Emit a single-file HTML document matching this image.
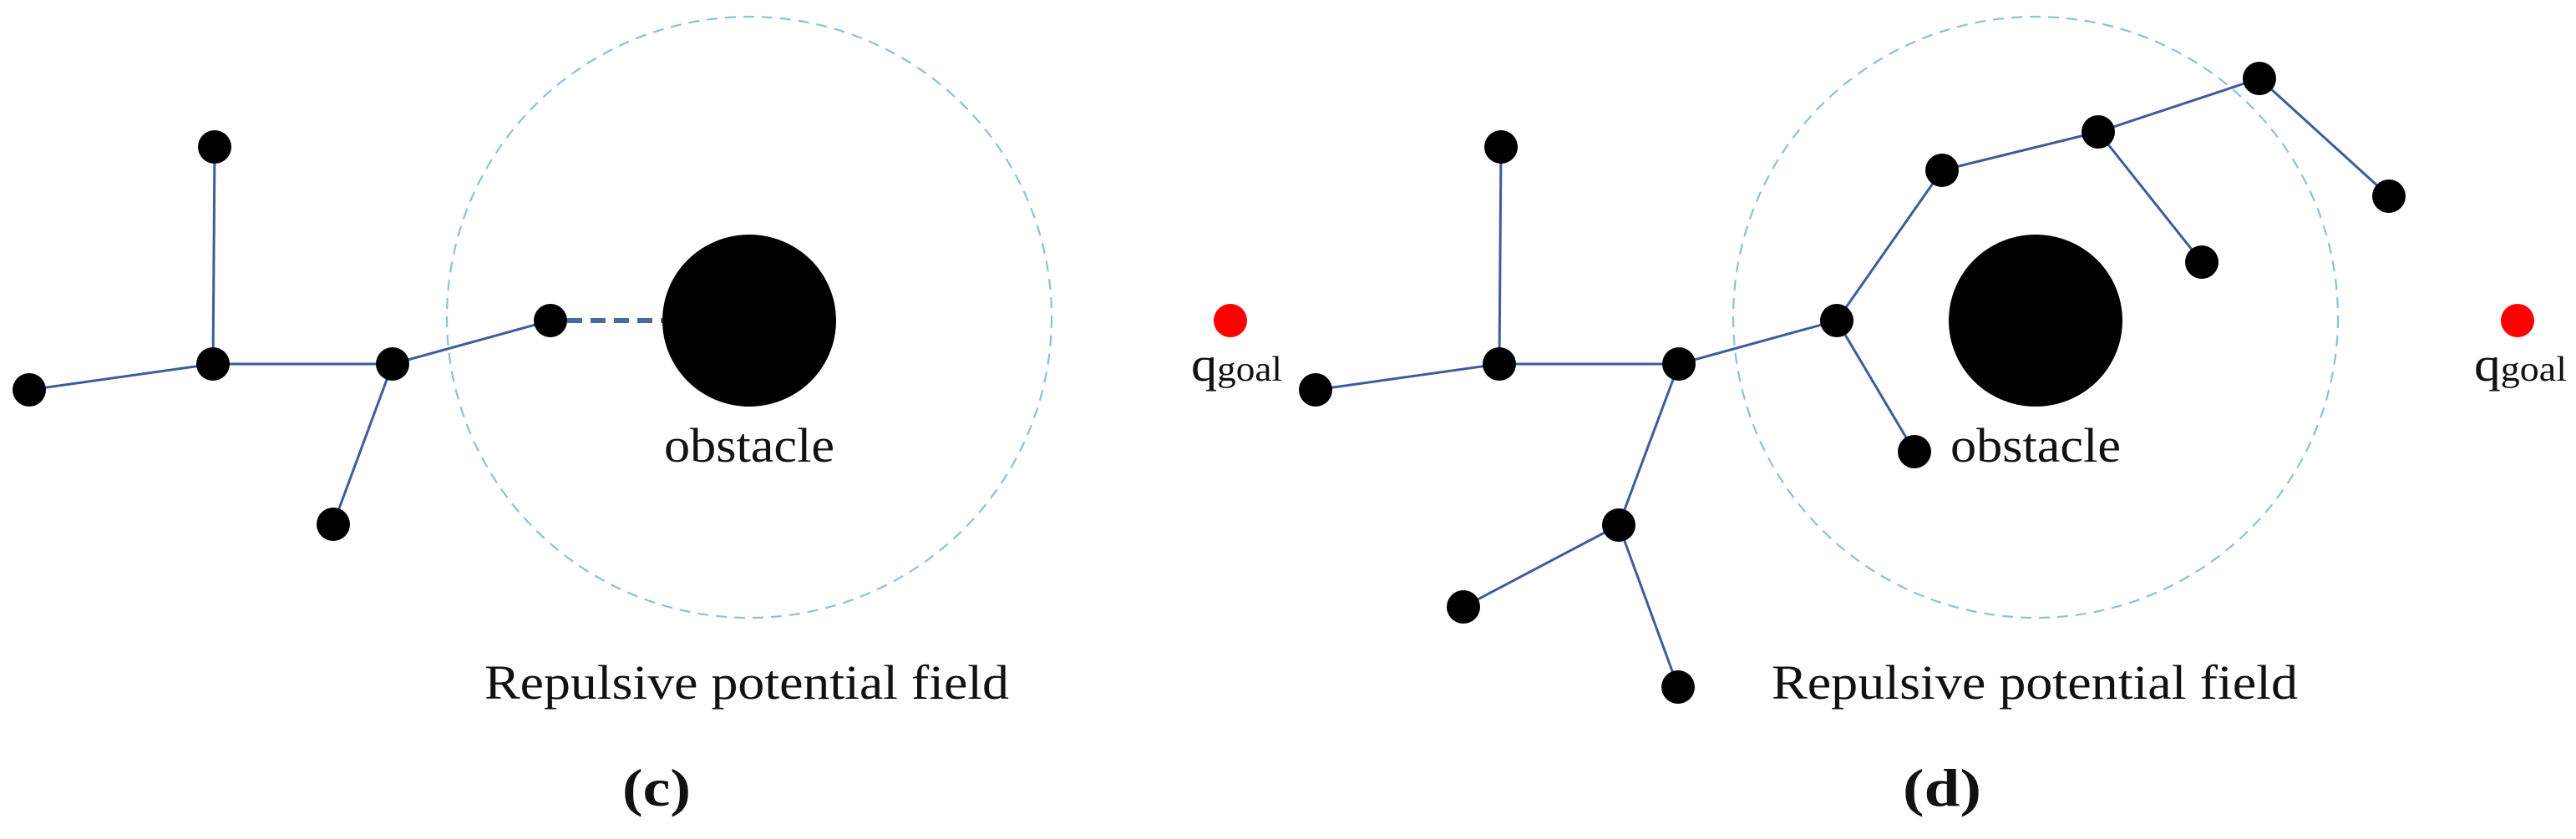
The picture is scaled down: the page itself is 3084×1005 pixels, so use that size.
<!DOCTYPE html>
<html><head><meta charset="utf-8"><style>
html,body{margin:0;padding:0;background:#fff;}
svg{display:block;}
text{font-family:"Liberation Serif",serif;fill:#111;}
</style></head><body>
<svg width="3084" height="1005" viewBox="0 0 3084 1005" xmlns="http://www.w3.org/2000/svg">
<g fill="none" stroke="#8cbfe0" stroke-width="2.2" stroke-dasharray="13 9">
<ellipse cx="897" cy="380" rx="362" ry="360"/>
<ellipse cx="2437" cy="380" rx="362" ry="360"/>
</g>
<g stroke="#3d5c9c" stroke-width="3" fill="none">
<line x1="257" y1="176" x2="255" y2="436"/>
<line x1="35" y1="467" x2="255" y2="436"/>
<line x1="255" y1="436" x2="470" y2="436"/>
<line x1="470" y1="436" x2="399" y2="628"/>
<line x1="470" y1="436" x2="659" y2="384"/>
<line x1="1797" y1="176" x2="1795" y2="436"/>
<line x1="1575" y1="467" x2="1795" y2="436"/>
<line x1="1795" y1="436" x2="2010" y2="436"/>
<line x1="2010" y1="436" x2="1938" y2="629"/>
<line x1="1938" y1="629" x2="1752" y2="727"/>
<line x1="1938" y1="629" x2="2009" y2="823"/>
<line x1="2010" y1="436" x2="2199" y2="384"/>
<line x1="2199" y1="384" x2="2292" y2="541"/>
<line x1="2199" y1="384" x2="2325" y2="204"/>
<line x1="2325" y1="204" x2="2512" y2="158"/>
<line x1="2512" y1="158" x2="2705" y2="94"/>
<line x1="2512" y1="158" x2="2636" y2="314"/>
<line x1="2705" y1="94" x2="2860" y2="235"/>
</g>
<line x1="679" y1="384" x2="795" y2="384" stroke="#4a6aa0" stroke-width="6" stroke-dasharray="18 10"/>
<g fill="#000">
<ellipse cx="897" cy="384" rx="104" ry="103"/>
<ellipse cx="2437" cy="384" rx="104" ry="103"/>
<circle cx="257" cy="176" r="20"/>
<circle cx="35" cy="467" r="20"/>
<circle cx="255" cy="436" r="20"/>
<circle cx="470" cy="436" r="20"/>
<circle cx="399" cy="628" r="20"/>
<circle cx="659" cy="384" r="20"/>
<circle cx="1797" cy="176" r="20"/>
<circle cx="1575" cy="467" r="20"/>
<circle cx="1795" cy="436" r="20"/>
<circle cx="2010" cy="436" r="20"/>
<circle cx="1938" cy="629" r="20"/>
<circle cx="1752" cy="727" r="20"/>
<circle cx="2009" cy="823" r="20"/>
<circle cx="2199" cy="384" r="20"/>
<circle cx="2292" cy="541" r="20"/>
<circle cx="2325" cy="204" r="20"/>
<circle cx="2512" cy="158" r="20"/>
<circle cx="2636" cy="314" r="20"/>
<circle cx="2705" cy="94" r="20"/>
<circle cx="2860" cy="235" r="20"/>
</g>
<g fill="#ff0000">
<circle cx="1473" cy="384" r="20"/>
<circle cx="3014" cy="384" r="20"/>
</g>
<text x="1426" y="456" font-size="58" textLength="109" lengthAdjust="spacingAndGlyphs">q<tspan font-size="42">goal</tspan></text>
<text x="2962" y="456" font-size="58" textLength="111" lengthAdjust="spacingAndGlyphs">q<tspan font-size="42">goal</tspan></text>
<text x="795" y="553" font-size="58" textLength="204" lengthAdjust="spacingAndGlyphs">obstacle</text>
<text x="2335" y="553" font-size="58" textLength="204" lengthAdjust="spacingAndGlyphs">obstacle</text>
<text x="580" y="837" font-size="58" textLength="628" lengthAdjust="spacingAndGlyphs">Repulsive potential field</text>
<text x="2121" y="837" font-size="58" textLength="630" lengthAdjust="spacingAndGlyphs">Repulsive potential field</text>
<text x="745" y="965" font-size="64" font-weight="bold" textLength="82" lengthAdjust="spacingAndGlyphs">(c)</text>
<text x="2278" y="965" font-size="64" font-weight="bold" textLength="94" lengthAdjust="spacingAndGlyphs">(d)</text>
</svg>
</body></html>
